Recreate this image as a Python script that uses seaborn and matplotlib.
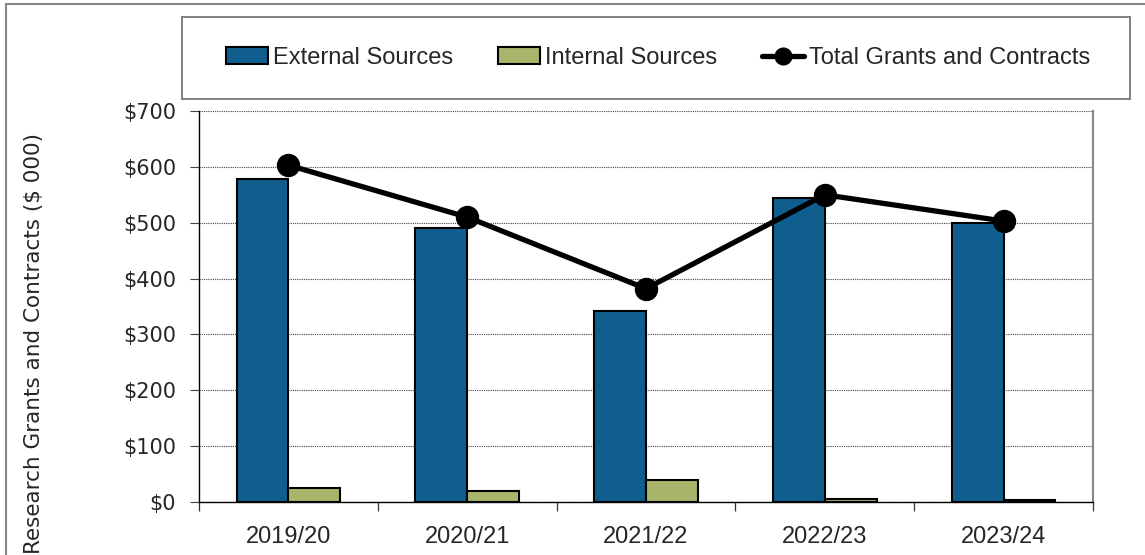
import matplotlib
matplotlib.use("Agg")
import matplotlib.pyplot as plt
import seaborn as sns
import pandas as pd
from matplotlib.patches import Patch, Rectangle
from matplotlib.lines import Line2D
from matplotlib.ticker import FixedLocator

# Data (in $ 000)
years = ["2019/20", "2020/21", "2021/22", "2022/23", "2023/24"]
external = [578, 490, 342, 544, 500]
internal = [25, 20, 40, 6, 3]
total = [603, 510, 382, 550, 503]
y_ticks = [0, 100, 200, 300, 400, 500, 600, 700]

ext_color = "#0F5E8E"
int_color = "#A7B56B"

df = pd.DataFrame({
    "year": years * 2,
    "value": external + internal,
    "source": ["External Sources"] * len(years) + ["Internal Sources"] * len(years),
})

sns.set_theme(style="white")
plt.rcParams["font.family"] = ["DejaVu Sans"]
label_font = ["Liberation Sans", "DejaVu Sans"]

W, H = 1145, 555
fig = plt.figure(figsize=(W / 100, H / 100), dpi=100)
ax = fig.add_axes([199 / W, 53 / H, 894 / W, 391 / H])

# bars
sns.barplot(
    data=df, x="year", y="value", hue="source",
    palette=[ext_color, int_color], width=0.58, gap=0,
    edgecolor="black", linewidth=1.5, saturation=1,
    legend=False, ax=ax,
)

# total line
sns.pointplot(
    x=years, y=total, color="black", markers="o",
    markersize=14, linewidth=3.8, ax=ax,
)

ax.set_xlim(-0.5, len(years) - 0.5)
ax.set_ylim(0, 700)
ax.set_xlabel("")
ax.set_ylabel("")

# y axis
ax.set_yticks(y_ticks)
ax.set_yticklabels([f"${v}" for v in y_ticks], fontsize=15)
ax.yaxis.grid(True, color="#444444", linestyle=(0, (1, 1)), linewidth=0.8)
ax.set_axisbelow(True)
ax.tick_params(axis="y", which="major", left=True, length=6.5, width=0.8,
               color="#444444", pad=10, direction="out")

# x axis: labels at centers, tick marks at category boundaries
ax.tick_params(axis="x", which="major", length=0, pad=17)
for lbl in ax.get_xticklabels():
    lbl.set_family(label_font)
    lbl.set_fontsize(17)
ax.xaxis.set_minor_locator(FixedLocator([i - 0.5 for i in range(len(years) + 1)]))
ax.tick_params(axis="x", which="minor", bottom=True, length=6.5, width=0.9,
               color="#333333", direction="out")

for side in ["left", "bottom"]:
    ax.spines[side].set_color("black")
    ax.spines[side].set_linewidth(1.0)
ax.spines["right"].set_color("#888888")
ax.spines["right"].set_linewidth(1.5)
ax.spines["top"].set_visible(False)

# y label
fig.text(34 / W, 1 - 343 / H, "Research Grants and Contracts ($ 000)",
         rotation=90, ha="center", va="center", fontsize=15.5)

# legend inside a framed box
handles = [
    Patch(facecolor=ext_color, edgecolor="black", linewidth=1.5),
    Patch(facecolor=int_color, edgecolor="black", linewidth=1.5),
    Line2D([], [], color="black", linewidth=3.8, marker="o", markersize=12),
]
labels = ["External Sources", "Internal Sources", "Total Grants and Contracts"]
fig.legend(handles, labels, loc="center", bbox_to_anchor=(658 / W, 1 - 58 / H),
           ncol=3, frameon=False, prop={"family": label_font, "size": 17},
           handlelength=1.8, handleheight=0.7, handletextpad=0.2,
           columnspacing=1.9)
fig.add_artist(Rectangle((182 / W, 1 - 99 / H), (1130 - 182) / W, 82 / H,
                         transform=fig.transFigure, fill=False,
                         edgecolor="#777777", linewidth=1.3))

# outer chart frame (top and left edges visible)
fig.add_artist(Line2D([6 / W, 6 / W], [0, 1 - 4 / H], transform=fig.transFigure,
                      color="#888888", linewidth=1.5))
fig.add_artist(Line2D([6 / W, 1], [1 - 4 / H, 1 - 4 / H], transform=fig.transFigure,
                      color="#888888", linewidth=1.5))

fig.savefig("out.png", dpi=100)
